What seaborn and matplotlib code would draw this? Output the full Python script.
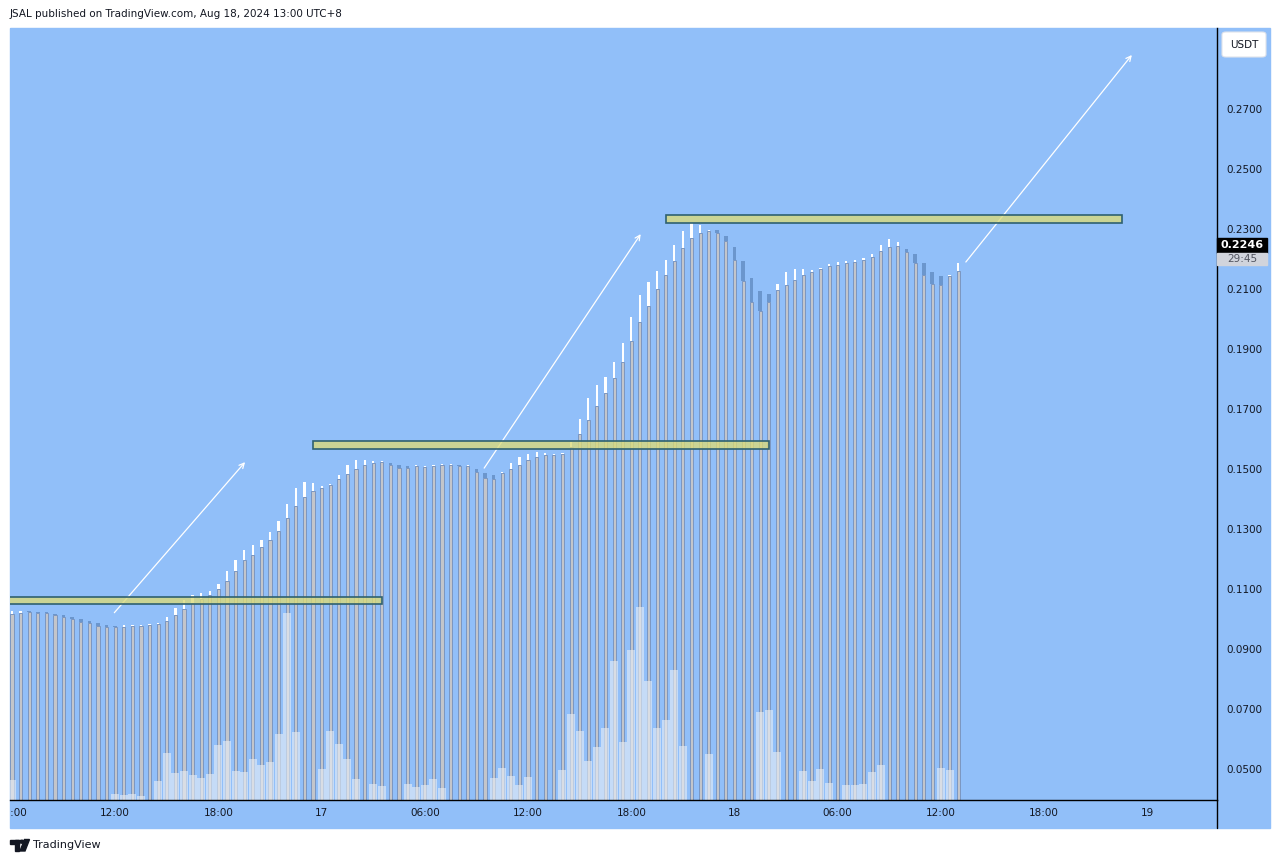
#Importing necessary libraries
import numpy as np
import pandas as pd
import seaborn as sns
import matplotlib.pyplot as plt
from matplotlib.patches import Rectangle, FancyBboxPatch, Polygon, Circle
from matplotlib.transforms import Bbox, TransformedBbox, blended_transform_factory

# JSAL/USDT 30 min candles, Aug 16 06:00 -> Aug 18 13:00 (UTC+8)
opens = [0.1018, 0.1021, 0.1024, 0.1023, 0.1020, 0.1017, 0.1013, 0.1007, 0.1000, 0.0993,
         0.0987, 0.0980, 0.0977, 0.0975, 0.0976, 0.0977, 0.0980, 0.0984, 0.0994, 0.1014,
         0.1034, 0.1053, 0.1068, 0.1080, 0.1100, 0.1128, 0.1160, 0.1197, 0.1213, 0.1240,
         0.1263, 0.1293, 0.1337, 0.1377, 0.1407, 0.1427, 0.1437, 0.1447, 0.1467, 0.1483,
         0.1500, 0.1513, 0.1520, 0.1523, 0.1520, 0.1513, 0.1510, 0.1509, 0.1507, 0.1510,
         0.1513, 0.1513, 0.1513, 0.1510, 0.1500, 0.1487, 0.1480, 0.1487, 0.1500, 0.1513,
         0.1530, 0.1540, 0.1547, 0.1547, 0.1550, 0.1573, 0.1617, 0.1663, 0.1710, 0.1753,
         0.1803, 0.1857, 0.1927, 0.1990, 0.2043, 0.2100, 0.2147, 0.2193, 0.2237, 0.2270,
         0.2287, 0.2293, 0.2297, 0.2277, 0.2240, 0.2193, 0.2137, 0.2093, 0.2083, 0.2097,
         0.2113, 0.2130, 0.2147, 0.2157, 0.2167, 0.2177, 0.2180, 0.2187, 0.2190, 0.2197,
         0.2207, 0.2227, 0.2240, 0.2243, 0.2233, 0.2217, 0.2187, 0.2157, 0.2143, 0.2143, 0.2160]
closes = [0.1027, 0.1027, 0.1023, 0.1020, 0.1019, 0.1014, 0.1008, 0.1001, 0.0991, 0.0986,
          0.0978, 0.0974, 0.0974, 0.0976, 0.0976, 0.0980, 0.0981, 0.0988, 0.1008, 0.1038,
          0.1063, 0.1080, 0.1087, 0.1093, 0.1117, 0.1160, 0.1197, 0.1230, 0.1247, 0.1263,
          0.1290, 0.1327, 0.1383, 0.1437, 0.1457, 0.1453, 0.1443, 0.1450, 0.1480, 0.1513,
          0.1530, 0.1530, 0.1527, 0.1527, 0.1513, 0.1504, 0.1504, 0.1510, 0.1510, 0.1513,
          0.1517, 0.1513, 0.1510, 0.1510, 0.1490, 0.1470, 0.1467, 0.1490, 0.1520, 0.1540,
          0.1550, 0.1557, 0.1553, 0.1547, 0.1550, 0.1590, 0.1667, 0.1737, 0.1780, 0.1807,
          0.1857, 0.1920, 0.2007, 0.2080, 0.2123, 0.2160, 0.2197, 0.2247, 0.2293, 0.2320,
          0.2313, 0.2297, 0.2287, 0.2260, 0.2197, 0.2127, 0.2057, 0.2027, 0.2057, 0.2117,
          0.2157, 0.2167, 0.2167, 0.2163, 0.2170, 0.2183, 0.2190, 0.2193, 0.2197, 0.2203,
          0.2217, 0.2247, 0.2267, 0.2257, 0.2223, 0.2187, 0.2147, 0.2117, 0.2113, 0.2147, 0.2187]
# volume (thousand JSAL)
volumes = [20, 0.5, 0.5, 0.5, 0.5, 0.5, 0.5, 0.5, 0.5, 0.5,
           0.5, 0.5, 6, 5, 6, 4, 0.5, 19, 47, 27,
           29, 25, 22, 26, 55, 59, 29, 28, 41, 35,
           38, 66, 187, 68, 0.5, 0.5, 31, 69, 56, 41,
           21, 0.5, 16, 14, 0.5, 0.5, 16, 13, 15, 21,
           12, 0.5, 0.5, 0.5, 0.5, 0.5, 22, 32, 24, 15,
           23, 0.5, 0.5, 0.5, 30, 86, 69, 39, 53, 72,
           139, 58, 150, 193, 119, 72, 80, 130, 54, 0.5,
           0.5, 46, 0.5, 0.5, 0.5, 0.5, 0.5, 88, 90, 48,
           0.5, 0.5, 29, 19, 31, 17, 0.5, 15, 15, 16,
           28, 35, 0.5, 0.5, 0.5, 0.5, 0.5, 0.5, 32, 30, 0.5]

# time axis (candle index -> label)
tick_pos = [0, 12, 24, 36, 48, 60, 72, 84, 96, 108, 120, 132]
tick_labels = ["06:00", "12:00", "18:00", "17", "06:00", "12:00", "18:00", "18",
               "06:00", "12:00", "18:00", "19"]
price_ticks = [0.05, 0.07, 0.09, 0.11, 0.13, 0.15, 0.17, 0.19, 0.21, 0.23, 0.25, 0.27]

# drawn zones (start idx, end idx, low, high)
zone_x0 = [-5.0, 35.0, 76.0]
zone_x1 = [43.0, 88.0, 129.1]
zone_lo = [0.1049, 0.1566, 0.2321]
zone_hi = [0.1072, 0.1593, 0.2347]

# drawn arrows (idx, price)
arrow_from = [(11.9, 0.1021), (54.9, 0.1503), (110.9, 0.2190)]
arrow_to = [(27.1, 0.1523), (73.1, 0.2283), (130.2, 0.2880)]

last_price = 0.2246
countdown = "29:45"

df = pd.DataFrame({"open": opens, "close": closes, "volume": volumes})
df["idx"] = np.arange(len(df))
df["low"] = df[["open", "close"]].min(axis=1)
df["body"] = (df["close"] - df["open"]).abs().clip(lower=0.0004)
df["up"] = df["close"] >= df["open"]

sns.set_theme(style="white")
plt.rcParams["font.family"] = ["DejaVu Sans"]

W, H = 1281, 863
fig = plt.figure(figsize=(W / 100, H / 100), dpi=100, facecolor="white")


def fx(px):
    return px / W


def fy(py):
    return 1 - py / H


bg = "#91bff9"
txt = "#131722"
fig.patches.append(Rectangle((fx(10), fy(828)), fx(1270) - fx(10), fy(28) - fy(828),
                             transform=fig.transFigure, color=bg, zorder=-1))

pos = [fx(10), fy(800), fx(1217) - fx(10), fy(28) - fy(800)]
xlim = (-0.23, 140.1)
ylim = (0.03967, 0.297)

# candles
ax = fig.add_axes(pos)
ax.set_facecolor(bg)
ax.bar(df["idx"], df["low"], width=0.36, color="#c3c5ca", edgecolor="#7b96c0", lw=0.7, zorder=2)
up = df[df["up"]]
dn = df[~df["up"]]
ax.bar(up["idx"], up["body"], bottom=up["low"], width=0.26, color="white", lw=0, zorder=3)
ax.bar(dn["idx"], dn["body"], bottom=dn["low"], width=0.42, color="#6b96cd", lw=0, zorder=3)
ax.set_xlim(*xlim)
ax.set_ylim(*ylim)
for s in ax.spines.values():
    s.set_visible(False)

# volume
ax2 = ax.twinx()
sns.barplot(data=df, x="idx", y="volume", native_scale=True, width=0.93, color="#e6edf8",
            alpha=0.6, errorbar=None, linewidth=0, ax=ax2)
ax2.set_ylim(0, 772)
ax2.set_xlim(*xlim)
ax2.set_yticks([])
ax2.set_xlabel("")
ax2.set_ylabel("")
for s in ax2.spines.values():
    s.set_visible(False)

# axis ticks (after twinx, which resets the side)
ax.set_xticks(tick_pos)
ax.set_xticklabels(tick_labels)
ax.set_yticks(price_ticks)
ax.set_yticklabels([f"{p:.4f}" for p in price_ticks])
ax.yaxis.tick_right()
ax.yaxis.set_label_position("right")
ax.tick_params(axis="x", length=0, pad=6, labelsize=7.5, colors=txt)
ax.tick_params(axis="y", length=0, pad=6.5, labelsize=7.5, colors=txt)
clip = TransformedBbox(Bbox.from_extents(fx(10), 0, 1, 1), fig.transFigure)
for lbl in ax.get_xticklabels():
    lbl.set_clip_box(clip)
    lbl.set_clip_on(True)

# drawings overlay
ax3 = fig.add_axes(pos)
ax3.patch.set_visible(False)
ax3.set_xlim(*xlim)
ax3.set_ylim(*ylim)
ax3.set_xticks([])
ax3.set_yticks([])
for k in ["top", "left"]:
    ax3.spines[k].set_visible(False)
for k in ["right", "bottom"]:
    ax3.spines[k].set_color("black")
    ax3.spines[k].set_linewidth(1)

for x0, x1, lo, hi in zip(zone_x0, zone_x1, zone_lo, zone_hi):
    ax3.add_patch(Rectangle((x0, lo), x1 - x0, hi - lo, facecolor=(0.86, 0.86, 0.47, 0.78),
                            edgecolor="#2f6170", lw=1.2, zorder=5))

for (xa, ya), (xb, yb) in zip(arrow_from, arrow_to):
    ax3.annotate("", xy=(xb, yb), xytext=(xa, ya), annotation_clip=False,
                 arrowprops=dict(arrowstyle="->", color="white", lw=0.9, mutation_scale=9,
                                 shrinkA=0, shrinkB=0))

# right axis extras
fig.add_artist(plt.Line2D([fx(1217), fx(1217)], [fy(800), fy(828)], color="black", lw=1))
trans = blended_transform_factory(fig.transFigure, ax3.transData)
fig.patches.append(Rectangle((fx(1217), last_price - 0.0025), fx(1267) - fx(1217), 0.005,
                             transform=trans, color="black", zorder=6))
fig.patches.append(Rectangle((fx(1217), last_price - 0.0067), fx(1267) - fx(1217), 0.0042,
                             transform=trans, color="#d1d4dc", zorder=6))
fig.text(fx(1242), last_price, f"{last_price:.4f}", transform=trans, ha="center", va="center",
         fontsize=8, color="white", fontweight="bold", zorder=7)
fig.text(fx(1242), last_price - 0.0046, countdown, transform=trans, ha="center", va="center",
         fontsize=7.5, color="#50535e", zorder=7)

fig.patches.append(FancyBboxPatch((fx(1222), fy(57)), fx(1266) - fx(1222), fy(32) - fy(57),
                                  boxstyle="round,pad=0,rounding_size=0.003",
                                  transform=fig.transFigure, facecolor="white",
                                  edgecolor="#e0e3eb", lw=0.8, zorder=6))
fig.text(fx(1244), fy(44.5), "USDT", ha="center", va="center", fontsize=7.5, color=txt, zorder=7)

# header and footer
fig.text(fx(10), fy(14), "JSAL published on TradingView.com, Aug 18, 2024 13:00 UTC+8",
         ha="left", va="center", fontsize=7.5, color=txt)
logo = [Rectangle((fx(10), fy(843.5)), fx(19) - fx(10), fy(839.5) - fy(843.5)),
        Rectangle((fx(14.5), fy(851)), fx(19) - fx(14.5), fy(839.5) - fy(851)),
        Polygon([(fx(24.5), fy(839.5)), (fx(29.5), fy(839.5)), (fx(25), fy(851)), (fx(20), fy(851))])]
for p in logo:
    p.set_transform(fig.transFigure)
    p.set_color(txt)
    fig.patches.append(p)
fig.patches.append(Circle((fx(21.8), fy(841.7)), 2.2 / W, transform=fig.transFigure, color=txt))
fig.text(fx(33), fy(845), "TradingView", ha="left", va="center", fontsize=8, color=txt)

fig.savefig("out.png", dpi=100, facecolor="white")
